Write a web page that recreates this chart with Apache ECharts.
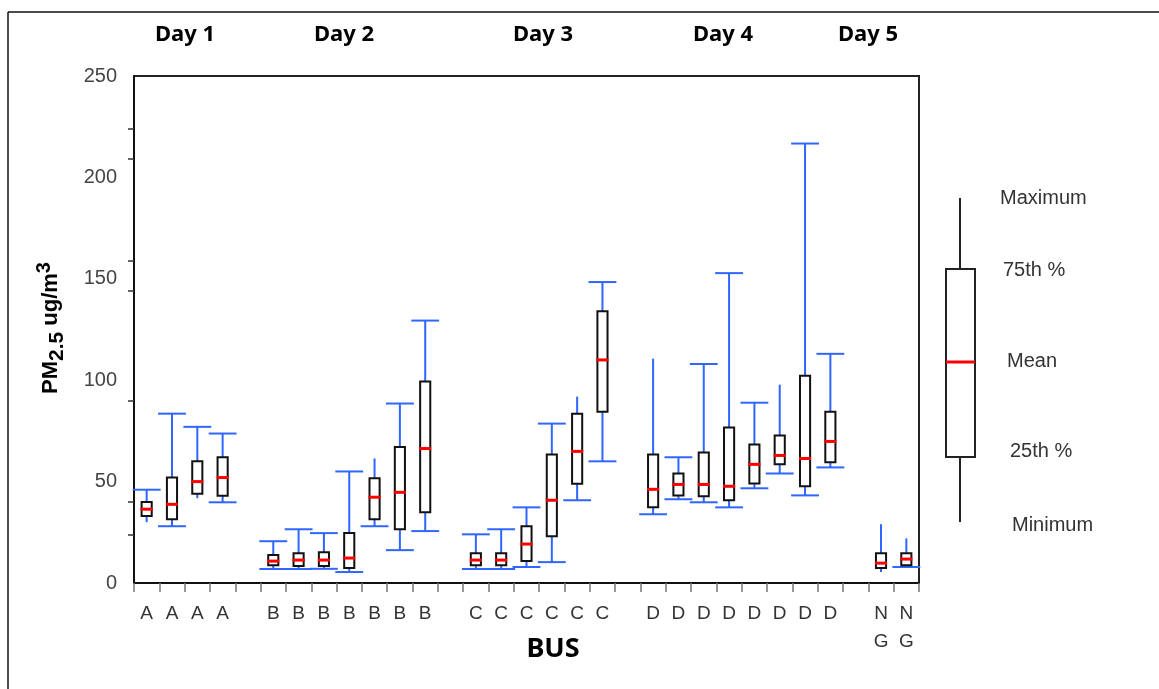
<!DOCTYPE html>
<html>
<head>
<meta charset="utf-8">
<script src="https://cdn.jsdelivr.net/npm/echarts@6/dist/echarts.min.js"></script>
<style>
  html, body { margin: 0; padding: 0; background: #fff; }
  #chart { width: 1159px; height: 689px; }
</style>
</head>
<body>
<div id="chart"></div>
<script>
// categories on the bus axis, '' = empty slot between days
var categories = ['A', 'A', 'A', 'A', '',
  'B', 'B', 'B', 'B', 'B', 'B', 'B', '',
  'C', 'C', 'C', 'C', 'C', 'C', '',
  'D', 'D', 'D', 'D', 'D', 'D', 'D', 'D', '',
  'N\nG', 'N\nG'];

// one entry per box, in order of the non-empty categories
var minVals  = [30, 28, 41.8, 39.8,  6.9, 6.9, 7, 5.4, 28, 16.2, 25.6,  6.9, 6.9, 7.9, 10.3, 40.8, 60,  33.9, 41.3, 39.8, 37.3, 46.7, 54, 43.2, 57,  5.4, 7.9];
var q1Vals   = [33, 31.4, 44, 43,  8.8, 8.4, 8.4, 7.4, 31.4, 26.5, 34.9,  8.8, 8.8, 10.8, 23, 49, 84.5,  37.3, 43.2, 42.8, 40.8, 49.1, 58.5, 47.7, 59.5,  7.4, 8.8];
var meanVals = [36.4, 38.8, 50, 52,  10.8, 11.3, 11.3, 12.3, 42.3, 44.7, 66.3,  11.3, 11.3, 19.2, 40.8, 64.9, 110,  46.2, 48.6, 48.6, 47.7, 58.5, 62.9, 61.4, 69.8,  9.8, 11.8];
var q3Vals   = [40, 52, 60, 62,  13.8, 14.7, 15.2, 24.6, 51.6, 67, 99.3,  14.7, 14.7, 28, 63.4, 83.5, 134,  63.4, 54, 64.4, 76.7, 68.3, 72.7, 102.2, 84.5,  14.7, 14.7];
var maxVals  = [46, 83.5, 77, 73.7,  20.6, 26.5, 24.6, 55, 61.4, 88.5, 129.4,  24, 26.5, 37.3, 78.6, 91.9, 148.4,  110.6, 62, 108, 152.8, 88.9, 97.8, 216.7, 113,  29, 22];
// whisker end caps present (1) or not (0)
var topCap    = [1, 1, 1, 1,  1, 1, 1, 1, 0, 1, 1,  1, 1, 1, 1, 0, 1,  0, 1, 1, 1, 1, 0, 1, 1,  0, 0];
var bottomCap = [0, 1, 0, 1,  1, 1, 1, 1, 1, 1, 1,  1, 1, 1, 1, 1, 1,  1, 1, 1, 1, 1, 1, 1, 1,  0, 1];

var yLabels = [0, 50, 100, 150, 200, 250];
var yTicks = [24, 40, 90, 144, 159, 209, 224];

var dayNames = ['Day 1', 'Day 2', 'Day 3', 'Day 4', 'Day 5'];
var dayX = [185, 344, 543, 723, 868];

var keyLabels = ['Maximum', '75th %', 'Mean', '25th %', 'Minimum'];

var boxData = [];
var k = 0;
categories.forEach(function (c, i) {
  if (c === '') return;
  boxData.push([i, minVals[k], q1Vals[k], meanVals[k], q3Vals[k], maxVals[k], topCap[k], bottomCap[k]]);
  k++;
});

var BLUE = '#2f66ff';

function renderBox(params, api) {
  var i = api.value(0);
  var band = api.size([1, 0])[0];
  var x = api.coord([i, 0])[0];
  var yMin = api.coord([i, api.value(1)])[1];
  var yQ1 = api.coord([i, api.value(2)])[1];
  var yMean = api.coord([i, api.value(3)])[1];
  var yQ3 = api.coord([i, api.value(4)])[1];
  var yMax = api.coord([i, api.value(5)])[1];
  var boxW = band * 0.4;
  var capW = band * 1.1;
  var kids = [
    { type: 'line', shape: { x1: x, y1: yMax, x2: x, y2: yQ3 }, style: { stroke: BLUE, lineWidth: 2 } },
    { type: 'line', shape: { x1: x, y1: yQ1, x2: x, y2: yMin }, style: { stroke: BLUE, lineWidth: 2 } }
  ];
  if (api.value(6)) {
    kids.push({ type: 'line', shape: { x1: x - capW / 2, y1: yMax, x2: x + capW / 2, y2: yMax }, style: { stroke: BLUE, lineWidth: 2 } });
  }
  if (api.value(7)) {
    kids.push({ type: 'line', shape: { x1: x - capW / 2, y1: yMin, x2: x + capW / 2, y2: yMin }, style: { stroke: BLUE, lineWidth: 2 } });
  }
  kids.push({ type: 'rect', shape: { x: x - boxW / 2, y: yQ3, width: boxW, height: yQ1 - yQ3 }, style: { fill: 'none', stroke: '#111', lineWidth: 2 } });
  kids.push({ type: 'line', shape: { x1: x - boxW / 2 - 1, y1: yMean, x2: x + boxW / 2 + 1, y2: yMean }, style: { stroke: '#ff0000', lineWidth: 3 } });
  return { type: 'group', children: kids };
}

var graphics = [
  { type: 'line', shape: { x1: 8, y1: 12, x2: 1159, y2: 12 }, style: { stroke: '#111', lineWidth: 1.5 } },
  { type: 'line', shape: { x1: 8, y1: 12, x2: 8, y2: 689 }, style: { stroke: '#111', lineWidth: 1.5 } },
  {
    type: 'text', x: 553, y: 649,
    style: { text: 'BUS', font: 'bold 27px "Noto Sans"', fill: '#000', align: 'center', verticalAlign: 'middle' }
  },
  {
    type: 'text', x: 51, y: 328, rotation: Math.PI / 2,
    style: {
      text: '{m|PM}{s|2.5}{m| ug/m}{p|3}',
      align: 'center', verticalAlign: 'middle',
      rich: {
        m: { fontFamily: 'Liberation Sans', fontWeight: 'bold', fontSize: 22, lineHeight: 34, fill: '#000' },
        s: { fontFamily: 'Liberation Sans', fontWeight: 'bold', fontSize: 21, lineHeight: 16, verticalAlign: 'bottom', fill: '#000' },
        p: { fontFamily: 'Liberation Sans', fontWeight: 'bold', fontSize: 20, lineHeight: 16, verticalAlign: 'top', fill: '#000' }
      }
    }
  },
  // key on the right
  { type: 'line', shape: { x1: 960, y1: 198, x2: 960, y2: 269 }, style: { stroke: '#222', lineWidth: 2 } },
  { type: 'rect', shape: { x: 946, y: 269, width: 29, height: 188 }, style: { fill: 'none', stroke: '#222', lineWidth: 2 } },
  { type: 'line', shape: { x1: 946, y1: 362, x2: 975, y2: 362 }, style: { stroke: '#ff0000', lineWidth: 3 } },
  { type: 'line', shape: { x1: 960, y1: 457, x2: 960, y2: 522 }, style: { stroke: '#222', lineWidth: 2 } }
];

dayNames.forEach(function (d, i) {
  graphics.push({
    type: 'text', x: dayX[i], y: 35,
    style: { text: d, font: 'bold 22px "Noto Sans"', fill: '#000', align: 'center', verticalAlign: 'middle' }
  });
});

var keyX = [1000, 1003, 1007, 1010, 1012];
var keyY = [198, 270, 361, 451, 525];
keyLabels.forEach(function (t, i) {
  graphics.push({
    type: 'text', x: keyX[i], y: keyY[i],
    style: { text: t, font: '20px "Liberation Sans"', fill: '#333', align: 'left', verticalAlign: 'middle' }
  });
});

var chart = echarts.init(document.getElementById('chart'));
chart.setOption({
  animation: false,
  grid: { left: 134, right: 240, top: 76, bottom: 106, show: true, borderColor: '#222', borderWidth: 2 },
  xAxis: {
    type: 'category',
    data: categories,
    boundaryGap: true,
    axisLine: { lineStyle: { color: '#111', width: 2 } },
    axisTick: { show: true, interval: 0, length: 9, lineStyle: { color: '#777', width: 1.5 } },
    axisLabel: { interval: 0, color: '#333', fontSize: 19, fontFamily: 'Liberation Sans', margin: 17, lineHeight: 28 },
    splitLine: { show: false }
  },
  yAxis: {
    type: 'value',
    min: 0,
    max: 250,
    interval: 50,
    axisLine: { show: true, lineStyle: { color: '#111', width: 2 } },
    axisTick: { show: true, length: 6, customValues: yTicks, lineStyle: { color: '#333', width: 1.5 } },
    axisLabel: { customValues: yLabels, color: '#444', fontSize: 20, fontFamily: 'Liberation Sans', margin: 17 },
    splitLine: { show: false }
  },
  series: [{
    type: 'custom',
    renderItem: renderBox,
    data: boxData,
    encode: { x: 0, y: [1, 2, 3, 4, 5] }
  }],
  graphic: graphics
});
</script>
</body>
</html>
